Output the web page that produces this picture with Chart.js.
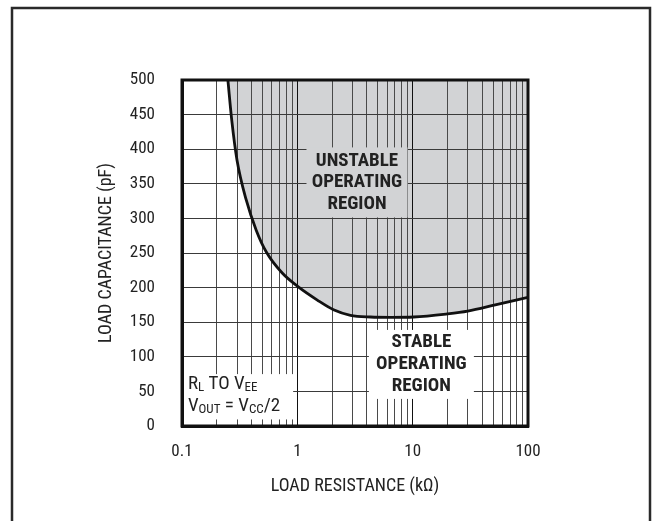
<!DOCTYPE html>
<html><head><meta charset="utf-8">
<script src="https://cdn.jsdelivr.net/npm/chart.js@4.4.1/dist/chart.umd.min.js"></script>
<style>html,body{margin:0;padding:0;background:#fff;}canvas{display:block;}</style>
</head><body>
<canvas id="c" width="652" height="521"></canvas>
<script>
// ---- data ----
const resistanceK   = [0.25, 0.27, 0.30, 0.36, 0.44, 0.54, 0.74, 1.02, 1.49, 2.06, 2.89, 4.31, 6.44, 10.2, 20,  30,  52,  100];
const capacitancePF = [500,  442,  384,  327,  283,  251,  221,  201,  182,  168,  160,  157.5, 157, 157.5, 162, 166, 175, 186];
const xDecadeTicks  = [0.1, 1, 10, 100];
const xMantissas    = [1, 2, 3, 4, 5, 6, 7, 8, 9];
const yTicks        = [0, 50, 100, 150, 200, 250, 300, 350, 400, 450, 500];
const xTitle = 'LOAD RESISTANCE (kΩ)';
const yTitle = 'LOAD CAPACITANCE (pF)';
const unstableLines = ['UNSTABLE', 'OPERATING', 'REGION'];
const stableLines   = ['STABLE', 'OPERATING', 'REGION'];

// ---- pick a condensed sans face if one is installed ----
const probe = document.createElement('canvas').getContext('2d');
const SAMPLE = 'LOAD CAPACITANCE (pF) 0123456789';
function tw(f) { probe.font = f; return probe.measureText(SAMPLE).width; }
let FAM = "'Liberation Sans', Arial, sans-serif", STRETCH = '', NARROW = false;
(function pick() {
  const mono = tw('16px monospace');
  const named = ["'Liberation Sans Narrow'", "'Arial Narrow'", "'Roboto Condensed'", "'Noto Sans Condensed'", "'DejaVu Sans Condensed'", "'Open Sans Condensed'"];
  for (const f of named) {
    if (Math.abs(tw('16px ' + f + ', monospace') - mono) > 0.5) { FAM = f + ', sans-serif'; NARROW = true; return; }
  }
  const stretchable = ["'Liberation Sans'", "'Noto Sans'", 'Roboto', "'Open Sans'", "'DejaVu Sans'", 'Inter'];
  for (const f of stretchable) {
    const n = tw('16px ' + f), c = tw('condensed 16px ' + f);
    if (c < n * 0.93) { FAM = f + ', sans-serif'; STRETCH = 'condensed'; NARROW = true; return; }
  }
})();
const S = NARROW ? 1.06 : 1.0;
const TICK_SIZE = Math.round(16.5 * S), TITLE_SIZE = Math.round(17 * S), BOLD_SIZE = Math.round(17.5 * S), NOTE_SIZE = Math.round(17.5 * S), SUB_SIZE = Math.round(12.5 * S);
const fnt = (size) => ({family: FAM, size: size, weight: STRETCH || undefined});
const TEXT = '#222';

// annotation anchors (data space) and styles
const notes = {
  unstable: {r: 3.29, c: 352, w: 101, h: 70, bg: '#d2d3d5', lines: unstableLines, gap: 21.5},
  stable:   {r: 11.9, c: 89,  w: 105, h: 69, bg: '#ffffff', lines: stableLines, gap: 22}
};
const rlBox = {rRight: 0.92, cTop: 75, cBottom: 9.5, rText: 0.1125, cLine1: 62, cLine2: 30};

const isDecade = v => Math.abs(Math.log10(v) - Math.round(Math.log10(v))) < 1e-9;
const xAllTicks = [];
for (let d = 0; d < xDecadeTicks.length - 1; d++) {
  for (const m of xMantissas) xAllTicks.push(+(m * xDecadeTicks[d]).toPrecision(4));
}
xAllTicks.push(xDecadeTicks[xDecadeTicks.length - 1]);

function drawSubText(ctx, x, y, parts) {
  let cx = x;
  for (const p of parts) {
    ctx.font = (STRETCH ? STRETCH + ' ' : '') + (p.sub ? SUB_SIZE : NOTE_SIZE) + 'px ' + FAM;
    ctx.fillText(p.t, cx, y + (p.sub ? 2 : 0));
    cx += ctx.measureText(p.t).width;
  }
}

const annotate = {
  id: 'annotate',
  afterDatasetsDraw(chart) {
    const {ctx, scales: {x, y}, chartArea: a} = chart;
    ctx.save();
    for (const k of Object.keys(notes)) {
      const n = notes[k];
      const px = x.getPixelForValue(n.r), py = y.getPixelForValue(n.c);
      ctx.fillStyle = n.bg;
      ctx.fillRect(px - n.w / 2, py - n.h / 2, n.w, n.h);
      ctx.fillStyle = TEXT;
      ctx.font = 'bold ' + (STRETCH ? STRETCH + ' ' : '') + BOLD_SIZE + 'px ' + FAM;
      ctx.textAlign = 'center';
      ctx.textBaseline = 'middle';
      n.lines.forEach((t, i) => ctx.fillText(t, px, py + (i - 1) * n.gap));
    }
    // RL to VEE box
    const bx = a.left + 2, btop = y.getPixelForValue(rlBox.cTop), bbot = y.getPixelForValue(rlBox.cBottom);
    const bright = x.getPixelForValue(rlBox.rRight);
    ctx.fillStyle = '#fff';
    ctx.fillRect(bx, btop, bright - bx, bbot - btop);
    ctx.fillStyle = TEXT;
    ctx.textAlign = 'left';
    ctx.textBaseline = 'alphabetic';
    const tx = x.getPixelForValue(rlBox.rText);
    drawSubText(ctx, tx, y.getPixelForValue(rlBox.cLine1) + 6, [{t: 'R'}, {t: 'L', sub: true}, {t: ' TO V'}, {t: 'EE', sub: true}]);
    drawSubText(ctx, tx, y.getPixelForValue(rlBox.cLine2) + 6, [{t: 'V'}, {t: 'OUT', sub: true}, {t: ' = V'}, {t: 'CC', sub: true}, {t: '/2'}]);
    ctx.restore();
  },
  afterDraw(chart) {
    const {ctx, chartArea: a} = chart;
    ctx.save();
    ctx.strokeStyle = '#111';
    ctx.lineWidth = 3;
    ctx.strokeRect(a.left, a.top, a.right - a.left, a.bottom - a.top);
    // outer figure frame
    ctx.strokeStyle = '#2a2a2a';
    ctx.lineWidth = 2.5;
    ctx.beginPath();
    ctx.moveTo(12, chart.height);
    ctx.lineTo(12, 8);
    ctx.lineTo(650, 8);
    ctx.lineTo(650, chart.height);
    ctx.stroke();
    ctx.restore();
  }
};

new Chart(document.getElementById('c'), {
  type: 'line',
  data: {
    datasets: [{
      data: resistanceK.map((r, i) => ({x: r, y: capacitancePF[i]})),
      borderColor: '#111',
      borderWidth: 2.8,
      pointRadius: 0,
      cubicInterpolationMode: 'monotone',
      fill: 'end',
      backgroundColor: '#d2d3d5'
    }]
  },
  options: {
    responsive: false,
    animation: false,
    devicePixelRatio: 1,
    layout: {padding: {left: 0, right: 124, top: 80, bottom: 0}},
    plugins: {
      legend: {display: false},
      tooltip: {enabled: false},
      filler: {drawTime: 'beforeDraw'}
    },
    scales: {
      x: {
        type: 'logarithmic',
        min: 0.1, max: 100,
        afterBuildTicks: s => { s.ticks = xAllTicks.map(v => ({value: v, major: isDecade(v)})); },
        afterFit: s => { s.height = 95; },
        ticks: {
          autoSkip: false, maxRotation: 0, minRotation: 0, padding: 16,
          color: TEXT, font: fnt(TICK_SIZE),
          callback: v => (xDecadeTicks.some(d => Math.abs(d - v) < 1e-9) ? String(v) : '')
        },
        grid: {
          drawTicks: false, lineWidth: 1,
          color: c => (c.tick && isDecade(c.tick.value) ? '#111' : '#4a4a4a')
        },
        border: {display: true, color: '#111', width: 3},
        title: {display: true, text: xTitle, color: TEXT, font: fnt(TITLE_SIZE), padding: {top: 0, bottom: 24}}
      },
      y: {
        type: 'linear',
        min: 0, max: 500,
        afterBuildTicks: s => { s.ticks = yTicks.map(v => ({value: v})); },
        afterFit: s => { s.width = 182; },
        ticks: {padding: 27, color: TEXT, font: fnt(TICK_SIZE)},
        grid: {drawTicks: false, lineWidth: 1, color: '#3a3a3a'},
        border: {display: true, color: '#111', width: 3},
        title: {display: true, text: yTitle, color: TEXT, font: fnt(TITLE_SIZE), padding: {top: 96, bottom: 0}}
      }
    }
  },
  plugins: [annotate]
});
</script>
</body></html>
